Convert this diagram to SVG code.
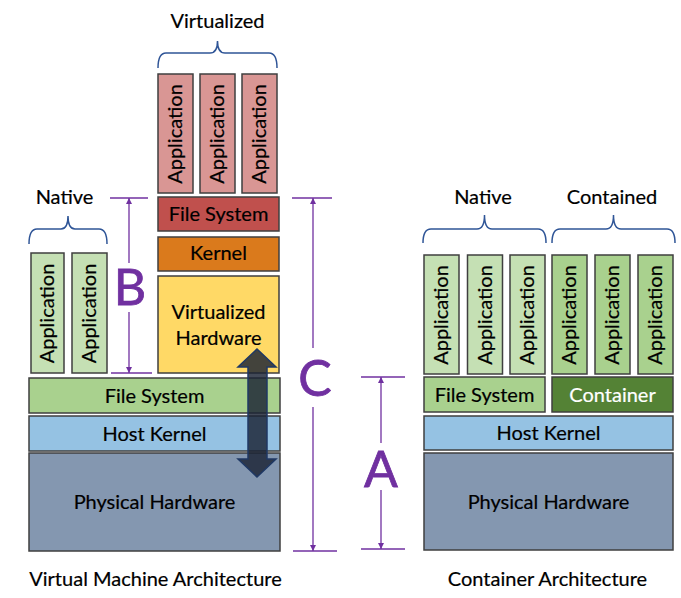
<svg xmlns="http://www.w3.org/2000/svg" width="681" height="598" viewBox="0 0 681 598">
<style>
  text { font-family: Lato, "Open Sans", "Liberation Sans", sans-serif; fill: #000; stroke: #000; stroke-width: 0.2; }
  .lbl { font-size: 20px; text-anchor: middle; }
  .app { font-size: 20px; text-anchor: middle; }
  .box { stroke: #3F3F3F; stroke-width: 1.5; }
  .brace { fill: none; stroke: #2F5597; stroke-width: 1.5; }
  .dim { fill: none; stroke: #7030A0; stroke-width: 1.3; }
  .big { font-size: 50px; fill: #7030A0; stroke: #7030A0; stroke-width: 0.8; text-anchor: middle; }
  .vapp { fill: #D99694; }
  .napp { fill: #C5E0B4; }
  .capp { fill: #A9D18E; }
  .wt { fill: #FFFFFF; stroke: #FFFFFF; }
</style>
<defs>
  <marker id="ah" viewBox="0 0 10 10" refX="10" refY="5" markerWidth="6" markerHeight="6" orient="auto-start-reverse" markerUnits="userSpaceOnUse">
    <path d="M0,0 L10,5 L0,10 z" fill="#7030A0"/>
  </marker>
</defs>
<rect width="681" height="598" fill="#FFFFFF"/>

<!-- Left: Virtual Machine Architecture -->
<g id="vm-virtualized-label">
  <text class="lbl" x="217.5" y="28">Virtualized</text>
  <path class="brace" d="M158,68 Q158,53 166,53 L210,53 Q217.5,53 217.5,41 Q217.5,53 225,53 L269,53 Q277,53 277,68"/>
</g>
<g id="vm-app1"><rect class="box vapp" x="158" y="74" width="35" height="119"/><text class="app" transform="translate(175.5,134) rotate(-90)" y="6.5">Application</text></g>
<g id="vm-app2"><rect class="box vapp" x="200" y="74" width="35" height="119"/><text class="app" transform="translate(217.5,134) rotate(-90)" y="6.5">Application</text></g>
<g id="vm-app3"><rect class="box vapp" x="242" y="74" width="35" height="119"/><text class="app" transform="translate(259.5,134) rotate(-90)" y="6.5">Application</text></g>
<g id="vm-guest-fs"><rect class="box" fill="#C0504D" x="158" y="197" width="121" height="34"/><text class="lbl" x="218.5" y="221">File System</text></g>
<g id="vm-guest-kernel"><rect class="box" fill="#DA7A1C" x="158" y="237" width="121" height="34"/><text class="lbl" x="218.5" y="260">Kernel</text></g>
<g id="vm-virt-hw"><rect class="box" fill="#FFD966" x="158" y="276" width="121" height="97"/><text class="lbl" x="218.5" y="319">Virtualized</text><text class="lbl" x="218.5" y="345">Hardware</text></g>

<g id="vm-native-label">
  <text class="lbl" x="64.5" y="204">Native</text>
  <path class="brace" d="M29,244 Q29,229 37,229 L61,229 Q68,229 68,216 Q68,229 75,229 L99,229 Q107,229 107,244"/>
</g>
<g id="vm-native-app1"><rect class="box napp" x="31" y="253" width="33" height="120"/><text class="app" transform="translate(47.5,313.5) rotate(-90)" y="6.5">Application</text></g>
<g id="vm-native-app2"><rect class="box napp" x="72" y="253" width="35" height="120"/><text class="app" transform="translate(89.5,313.5) rotate(-90)" y="6.5">Application</text></g>
<g id="vm-host-fs"><rect class="box" fill="#A9D18E" x="29" y="378" width="251" height="35"/><text class="lbl" x="154.5" y="402.5">File System</text></g>
<g id="vm-host-kernel"><rect class="box" fill="#95C2E3" x="29" y="416" width="251" height="35"/><text class="lbl" x="154.5" y="441">Host Kernel</text></g>
<g id="vm-phys-hw"><rect class="box" fill="#8497B0" x="29" y="453" width="251" height="98"/><text class="lbl" x="154.5" y="509">Physical Hardware</text></g>
<g id="vm-title"><text class="lbl" x="155.5" y="586">Virtual Machine Architecture</text></g>

<!-- Right: Container Architecture -->
<g id="ct-native-label">
  <text class="lbl" x="483" y="204">Native</text>
  <path class="brace" d="M423,243 Q423,229 431,229 L477,229 Q484.5,229 484.5,215 Q484.5,229 492,229 L538,229 Q546,229 546,243"/>
</g>
<g id="ct-contained-label">
  <text class="lbl" x="612" y="204">Contained</text>
  <path class="brace" d="M552,243 Q552,229 560,229 L606,229 Q613.5,229 613.5,215 Q613.5,229 621,229 L667,229 Q675,229 675,243"/>
</g>
<g id="ct-native-app1"><rect class="box napp" x="424" y="255" width="35" height="119"/><text class="app" transform="translate(441.5,315) rotate(-90)" y="6.5">Application</text></g>
<g id="ct-native-app2"><rect class="box napp" x="467.5" y="255" width="35" height="119"/><text class="app" transform="translate(485,315) rotate(-90)" y="6.5">Application</text></g>
<g id="ct-native-app3"><rect class="box napp" x="510" y="255" width="35" height="119"/><text class="app" transform="translate(527.5,315) rotate(-90)" y="6.5">Application</text></g>
<g id="ct-cont-app1"><rect class="box capp" x="552" y="255" width="35" height="119"/><text class="app" transform="translate(569.5,315) rotate(-90)" y="6.5">Application</text></g>
<g id="ct-cont-app2"><rect class="box capp" x="595" y="255" width="35" height="119"/><text class="app" transform="translate(612.5,315) rotate(-90)" y="6.5">Application</text></g>
<g id="ct-cont-app3"><rect class="box capp" x="638" y="255" width="35" height="119"/><text class="app" transform="translate(655.5,315) rotate(-90)" y="6.5">Application</text></g>
<g id="ct-fs"><rect class="box" fill="#A9D18E" x="424" y="377" width="121" height="35"/><text class="lbl" x="484.5" y="401.5">File System</text></g>
<g id="ct-container"><rect class="box" fill="#548235" x="552" y="377" width="121" height="35"/><text class="lbl wt" x="612.5" y="401.5">Container</text></g>
<g id="ct-host-kernel"><rect class="box" fill="#95C2E3" x="424" y="416" width="249" height="34"/><text class="lbl" x="548.5" y="440">Host Kernel</text></g>
<g id="ct-phys-hw"><rect class="box" fill="#8497B0" x="424" y="453" width="249" height="97"/><text class="lbl" x="548.5" y="509">Physical Hardware</text></g>
<g id="ct-title"><text class="lbl" x="547.5" y="586">Container Architecture</text></g>

<!-- Connectors / dimension markers -->
<g id="connectors">
  <!-- B -->
  <line class="dim" x1="110" y1="198" x2="148" y2="198"/>
  <line class="dim" x1="111" y1="373" x2="152" y2="373"/>
  <line class="dim" x1="129" y1="263" x2="129" y2="198" marker-end="url(#ah)"/>
  <line class="dim" x1="129" y1="312" x2="129" y2="373" marker-end="url(#ah)"/>
  <text class="big" x="130" y="305">B</text>
  <!-- C -->
  <line class="dim" x1="292" y1="198" x2="332" y2="198"/>
  <line class="dim" x1="293" y1="551" x2="337" y2="551"/>
  <line class="dim" x1="313" y1="348" x2="313" y2="198" marker-end="url(#ah)"/>
  <line class="dim" x1="313" y1="407" x2="313" y2="551" marker-end="url(#ah)"/>
  <text class="big" x="315" y="396">C</text>
  <!-- A -->
  <line class="dim" x1="361" y1="377" x2="405" y2="377"/>
  <line class="dim" x1="361" y1="549" x2="405" y2="549"/>
  <line class="dim" x1="381" y1="443" x2="381" y2="377" marker-end="url(#ah)"/>
  <line class="dim" x1="381" y1="490" x2="381" y2="549" marker-end="url(#ah)"/>
  <text class="big" x="381" y="487">A</text>
  <!-- double arrow -->
  <path d="M257,349 L276,367 L267,367 L267,459 L276,459 L257,477 L238,459 L248,459 L248,367 L238,367 Z" fill="#1A2233" fill-opacity="0.82" stroke="#1F3864" stroke-width="1.5" stroke-linejoin="miter"/>
</g>
</svg>
